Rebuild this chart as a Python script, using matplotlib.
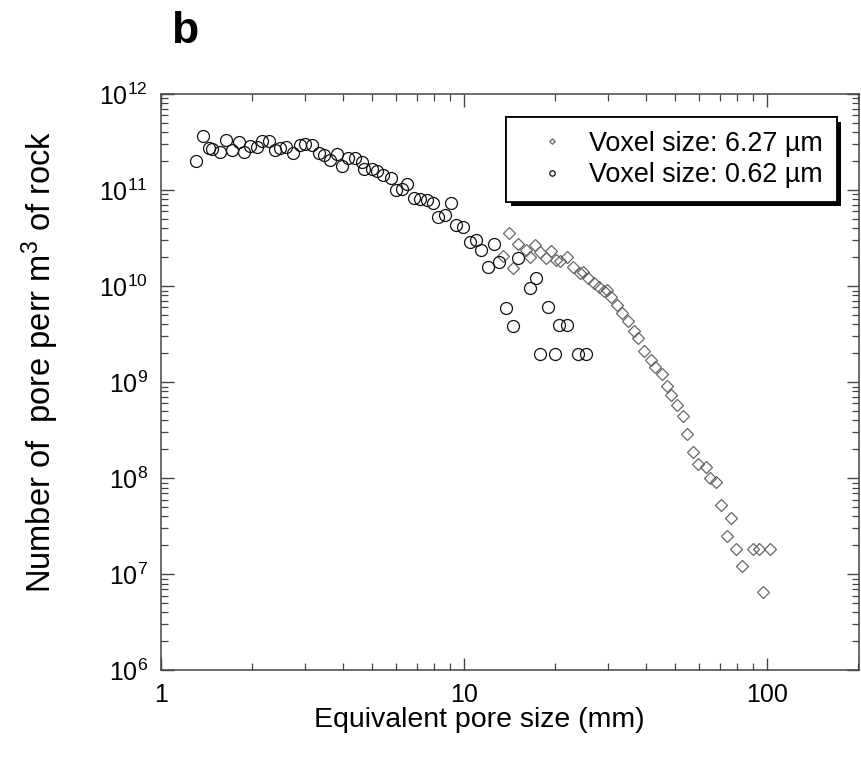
import matplotlib
matplotlib.use('Agg')
import matplotlib.pyplot as plt
import matplotlib.patheffects as pe
from matplotlib.ticker import FuncFormatter, NullFormatter, LogLocator

plt.rcParams['font.family'] = ['Liberation Sans', 'DejaVu Sans']
plt.rcParams['mathtext.fontset'] = 'custom'
plt.rcParams['mathtext.rm'] = 'Liberation Sans'
plt.rcParams['mathtext.it'] = 'Liberation Sans:italic'
plt.rcParams['mathtext.bf'] = 'Liberation Sans:bold'

# voxel size 6.27 um (diamonds)
size_627 = [13.51, 14.08, 14.58, 15.15, 16.00, 16.60, 17.19, 17.86, 18.63, 19.38,
            20.21, 20.75, 21.98, 22.89, 24.15, 24.82, 25.82, 26.92, 27.93, 28.94,
            29.68, 30.75, 31.99, 33.31, 34.94, 36.35, 37.47, 39.22, 41.42, 42.96,
            45.03, 46.77, 48.33, 50.58, 53.06, 54.58, 57.12, 59.25, 62.83, 65.02,
            68.05, 70.53, 73.82, 76.10, 79.20, 82.59, 90.32, 94.10, 96.87, 102.3]
num_627 = [2.058e10, 3.614e10, 1.532e10, 2.764e10, 2.359e10, 1.994e10, 2.679e10, 2.282e10, 1.947e10, 2.31e10,
           1.856e10, 1.812e10, 2.009e10, 1.592e10, 1.385e10, 1.395e10, 1.206e10, 1.077e10, 9.79e9, 8.79e9,
           9.11e9, 7.76e9, 6.43e9, 5.25e9, 4.38e9, 3.37e9, 2.917e9, 2.126e9, 1.70e9, 1.448e9,
           1.224e9, 9.05e8, 7.40e8, 5.78e8, 4.44e8, 2.907e8, 1.887e8, 1.405e8, 1.323e8, 9.98e7,
           9.06e7, 5.26e7, 2.514e7, 3.88e7, 1.843e7, 1.211e7, 1.843e7, 1.843e7, 6.49e6, 1.854e7]

# voxel size 0.62 um (circles)
size_062 = [1.304, 1.377, 1.444, 1.481, 1.570, 1.647, 1.716, 1.814, 1.880, 1.977,
            2.076, 2.156, 2.284, 2.379, 2.481, 2.599, 2.734, 2.891, 3.007, 3.152,
            3.344, 3.461, 3.622, 3.812, 3.954, 4.163, 4.380, 4.610, 4.708, 4.985,
            5.196, 5.418, 5.748, 5.995, 6.269, 6.527, 6.884, 7.194, 7.552, 7.905,
            8.249, 8.680, 9.064, 9.436, 9.973, 10.50, 10.98, 11.41, 12.06, 12.60,
            13.11, 13.80, 14.52, 15.08, 16.56, 17.33, 17.86, 19.02, 20.02, 20.69,
            21.88, 23.89, 25.33]
num_062 = [2.03e11, 3.653e11, 2.773e11, 2.656e11, 2.52e11, 3.36e11, 2.612e11, 3.187e11, 2.507e11, 2.874e11,
           2.827e11, 3.218e11, 3.226e11, 2.63e11, 2.76e11, 2.787e11, 2.413e11, 2.966e11, 3.0e11, 2.944e11,
           2.459e11, 2.345e11, 2.056e11, 2.385e11, 1.801e11, 2.141e11, 2.172e11, 1.974e11, 1.657e11, 1.644e11,
           1.598e11, 1.418e11, 1.326e11, 1.011e11, 1.035e11, 1.151e11, 8.36e10, 8.01e10, 7.88e10, 7.38e10,
           5.28e10, 5.50e10, 7.28e10, 4.33e10, 4.15e10, 2.90e10, 3.02e10, 2.376e10, 1.57e10, 2.744e10,
           1.77e10, 5.96e9, 3.84e9, 1.976e10, 9.62e9, 1.223e10, 1.964e9, 6.10e9, 1.964e9, 3.94e9,
           3.94e9, 1.964e9, 1.964e9]

labels = ['Voxel size: 6.27 \u00b5m', 'Voxel size: 0.62 \u00b5m']

fig = plt.figure(figsize=(8.61, 7.60), dpi=100)
ax = fig.add_axes([0.1865, 0.118, 0.8107, 0.7583])

ax.plot(size_627, num_627, linestyle='none', marker='D', ms=6.3, mfc='none',
        mec='#666666', mew=0.9, label=labels[0])
ax.plot(size_062, num_062, linestyle='none', marker='o', ms=8.6, mfc='none',
        mec='#111111', mew=0.9, label=labels[1])

ax.set_xscale('log')
ax.set_yscale('log')
ax.set_xlim(1, 201)
ax.set_ylim(1e6, 1e12)

ax.xaxis.set_major_formatter(FuncFormatter(lambda v, p: f'{v:g}'))
ax.xaxis.set_minor_formatter(NullFormatter())
ax.yaxis.set_major_locator(LogLocator(base=10, numticks=10))
ax.yaxis.set_minor_locator(LogLocator(base=10, subs=range(2, 10), numticks=20))
ax.yaxis.set_minor_formatter(NullFormatter())

ax.tick_params(which='both', direction='in', top=True, right=True,
               color='#444444', labelsize=18)
ax.tick_params(which='major', length=9, width=1.0)
ax.tick_params(which='minor', length=5, width=0.9)
ax.tick_params(axis='x', which='major', pad=9)
ax.tick_params(axis='y', which='major', pad=9)
for s in ax.spines.values():
    s.set_color('#444444')
    s.set_linewidth(1.1)

ax.set_xlabel('Equivalent pore size (mm)', fontsize=20.5)
ax.set_ylabel('Number of  pore perr m$^3$ of rock', fontsize=23.5)
ax.xaxis.set_label_coords(0.456, -0.064)
ax.yaxis.set_label_coords(-0.142, 0.535)

leg = ax.legend(loc='upper right', bbox_to_anchor=(0.9686, 0.9596), borderaxespad=0,
                fontsize=19.4, markerscale=0.45, handlelength=2.4, handletextpad=0.2,
                labelspacing=0.2, borderpad=0.5, fancybox=False, framealpha=1,
                edgecolor='black', numpoints=1)
leg.get_frame().set_linewidth(1.3)
leg.get_frame().set_path_effects([
    pe.withSimplePatchShadow(offset=(3.3, -3.3), shadow_rgbFace='black', alpha=1),
    pe.Normal()])

fig.text(0.199, 0.943, 'b', fontsize=32, fontweight='bold', va='baseline')

fig.savefig('out.png', dpi=100, facecolor='white')
